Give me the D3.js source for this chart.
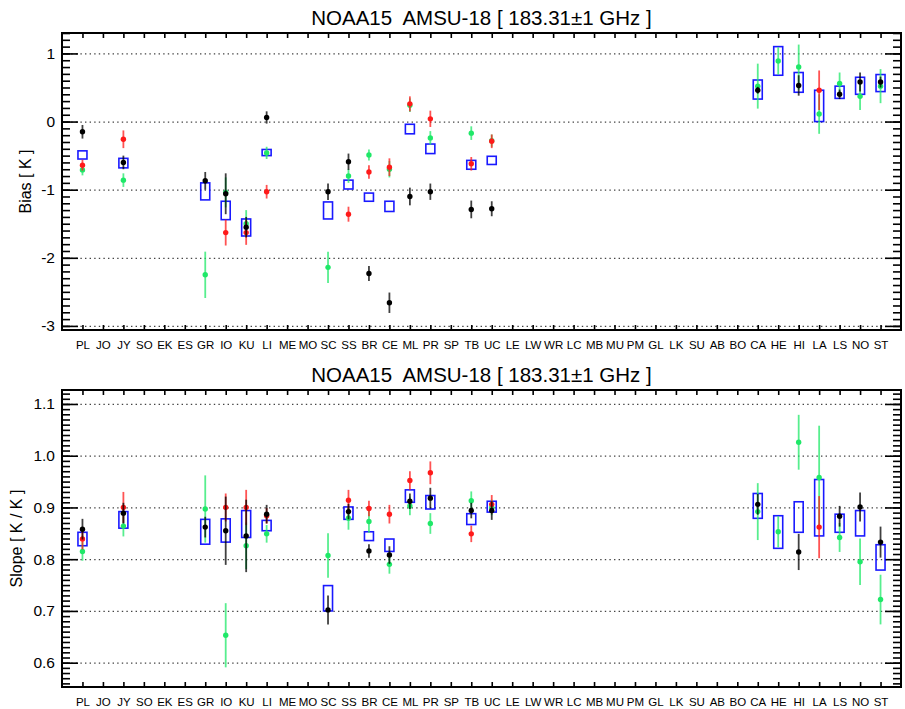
<!DOCTYPE html>
<html><head><meta charset="utf-8">
<script src="https://cdn.jsdelivr.net/npm/d3@7"></script>
<style>
body{margin:0;background:#fff;}
svg{display:block;font-family:"Liberation Sans",Arial,sans-serif;}
</style></head>
<body>
<svg id="chart" width="905" height="709"></svg>
<script>
const categories = ["PL","JO","JY","SO","EK","ES","GR","IO","KU","LI","ME","MO","SC","SS","BR","CE","ML","PR","SP","TB","UC","LE","LW","WR","LC","MB","MU","PM","GL","LK","SU","AB","BO","CA","HE","HI","LA","LS","NO","ST"];
const title = "NOAA15  AMSU-18 [ 183.31\u00b11 GHz ]";

// ---- Bias panel (value, error) keyed by category ----
const biasBlack = {PL:[-0.15,0.10],JY:[-0.60,0.10],GR:[-0.87,0.13],IO:[-1.06,0.30],KU:[-1.55,0.15],LI:[0.06,0.09],SC:[-1.03,0.12],SS:[-0.59,0.12],BR:[-2.23,0.11],CE:[-2.66,0.15],ML:[-1.10,0.13],PR:[-1.03,0.12],TB:[-1.29,0.13],UC:[-1.28,0.11],CA:[0.46,0.05],HI:[0.53,0.15],LS:[0.40,0.07],NO:[0.58,0.14],ST:[0.58,0.08]};
const biasRed = {PL:[-0.64,0.08],JY:[-0.26,0.13],IO:[-1.63,0.19],KU:[-1.63,0.18],LI:[-1.03,0.10],SS:[-1.36,0.11],BR:[-0.74,0.10],CE:[-0.67,0.13],ML:[0.26,0.11],PR:[0.04,0.12],TB:[-0.62,0.10],UC:[-0.29,0.10],LA:[0.46,0.29]};
const biasGreen = {PL:[-0.71,0.08],JY:[-0.86,0.10],GR:[-2.25,0.34],IO:[-1.04,0.22],KU:[-1.50,0.20],LI:[-0.46,0.09],SC:[-2.14,0.23],SS:[-0.80,0.10],BR:[-0.49,0.08],CE:[-0.70,0.12],ML:[0.24,0.10],PR:[-0.24,0.10],TB:[-0.17,0.10],UC:[-0.28,0.09],CA:[0.52,0.33],HE:[0.89,0.20],HI:[0.80,0.33],LA:[0.11,0.29],LS:[0.56,0.16],NO:[0.37,0.20],ST:[0.52,0.25]};
const biasBox = {PL:[-0.55,-0.43],JY:[-0.68,-0.54],GR:[-1.15,-0.90],IO:[-1.44,-1.17],KU:[-1.68,-1.43],LI:[-0.50,-0.41],SC:[-1.43,-1.18],SS:[-0.99,-0.86],BR:[-1.17,-1.05],CE:[-1.32,-1.17],ML:[-0.18,-0.04],PR:[-0.47,-0.33],TB:[-0.70,-0.57],UC:[-0.63,-0.51],CA:[0.33,0.61],HE:[0.68,1.10],HI:[0.43,0.72],LA:[0.00,0.46],LS:[0.34,0.52],NO:[0.40,0.65],ST:[0.44,0.69]};
const biasTicks = [1,0,-1,-2,-3];

// ---- Slope panel ----
const slopeBlack = {PL:[0.858,0.020],JY:[0.889,0.020],GR:[0.862,0.020],IO:[0.855,0.066],KU:[0.845,0.070],LI:[0.887,0.018],SC:[0.702,0.028],SS:[0.892,0.015],BR:[0.816,0.013],CE:[0.808,0.017],ML:[0.912,0.015],PR:[0.918,0.020],TB:[0.894,0.015],UC:[0.894,0.018],CA:[0.906,0.020],HI:[0.814,0.035],LS:[0.883,0.020],NO:[0.901,0.028],ST:[0.833,0.030]};
const slopeRed = {PL:[0.839,0.020],JY:[0.900,0.030],IO:[0.900,0.027],KU:[0.900,0.034],LI:[0.884,0.015],SS:[0.914,0.020],BR:[0.898,0.015],CE:[0.887,0.018],ML:[0.952,0.018],PR:[0.967,0.022],TB:[0.849,0.016],UC:[0.906,0.018],LA:[0.862,0.060]};
const slopeGreen = {PL:[0.815,0.018],JY:[0.864,0.020],GR:[0.897,0.065],IO:[0.653,0.062],KU:[0.826,0.045],LI:[0.849,0.017],SC:[0.807,0.043],SS:[0.879,0.022],BR:[0.873,0.022],CE:[0.790,0.018],ML:[0.903,0.018],PR:[0.869,0.020],TB:[0.913,0.018],UC:[0.900,0.015],CA:[0.892,0.055],HE:[0.853,0.030],HI:[1.026,0.053],LA:[0.958,0.100],LS:[0.842,0.028],NO:[0.795,0.045],ST:[0.722,0.048]};
const slopeBox = {PL:[0.826,0.852],JY:[0.860,0.892],GR:[0.829,0.877],IO:[0.833,0.878],KU:[0.842,0.894],LI:[0.855,0.875],SC:[0.700,0.749],SS:[0.877,0.901],BR:[0.836,0.853],CE:[0.815,0.839],ML:[0.910,0.934],PR:[0.897,0.923],TB:[0.867,0.888],UC:[0.891,0.912],CA:[0.879,0.927],HE:[0.821,0.884],HI:[0.852,0.911],LA:[0.845,0.954],LS:[0.852,0.887],NO:[0.845,0.894],ST:[0.779,0.828]};
const slopeTicks = [1.1,1.0,0.9,0.8,0.7,0.6];

const svg = d3.select("#chart");
const L = 62, R = 901;
const x = d3.scaleLinear().domain([-1, categories.length]).range([L, R]);
const colors = {green:"#1fe868", red:"#ff1a1a", black:"#000000", blue:"#0000ff"};

function panel(cfg){
  const {top, bottom, domain, majors, minorStep, fmt, ylabel, black, red, green, box, titleY} = cfg;
  const y = d3.scaleLinear().domain(domain).range([bottom, top]);
  const g = svg.append("g");

  // title
  svg.append("text").attr("x", (L+R)/2).attr("y", titleY).attr("text-anchor","middle")
    .attr("font-size", 20.5).attr("fill","#000").style("white-space","pre").text(title);

  // grid lines (dotted)
  g.append("g").attr("transform",`translate(${L},0)`)
    .call(d3.axisLeft(y).tickValues(majors).tickSize(-(R-L)).tickFormat(""))
    .call(s=>s.select(".domain").remove())
    .call(s=>s.selectAll("line").attr("stroke","#444").attr("stroke-width",1.3).attr("stroke-dasharray","1.4,3.2"));

  // minor ticks
  const [d0,d1] = domain;
  const minors = d3.range(Math.ceil(d0/minorStep - 1e-6), Math.floor(d1/minorStep + 1e-6)+1).map(k=>+(k*minorStep).toFixed(4));
  g.append("g").attr("transform",`translate(${L},0)`)
    .call(d3.axisLeft(y).tickValues(minors).tickSize(-8).tickFormat(""))
    .call(s=>s.select(".domain").remove())
    .call(s=>s.selectAll("line").attr("stroke","#000").attr("stroke-width",1.6));
  g.append("g").attr("transform",`translate(${R},0)`)
    .call(d3.axisRight(y).tickValues(minors).tickSize(-8).tickFormat(""))
    .call(s=>s.select(".domain").remove())
    .call(s=>s.selectAll("line").attr("stroke","#000").attr("stroke-width",1.6));
  // major ticks + labels
  g.append("g").attr("transform",`translate(${L},0)`)
    .call(d3.axisLeft(y).tickValues(majors).tickSize(-16).tickPadding(7).tickFormat(fmt))
    .call(s=>s.select(".domain").remove())
    .call(s=>s.selectAll("line").attr("stroke","#000").attr("stroke-width",1.6))
    .call(s=>s.selectAll("text").attr("font-size",15.5).attr("fill","#000").attr("font-family","Liberation Sans, Arial, sans-serif"));
  g.append("g").attr("transform",`translate(${R},0)`)
    .call(d3.axisRight(y).tickValues(majors).tickSize(-16).tickFormat(""))
    .call(s=>s.select(".domain").remove())
    .call(s=>s.selectAll("line").attr("stroke","#000").attr("stroke-width",1.6));

  // x ticks top & bottom
  const idx = d3.range(categories.length);
  g.append("g").attr("transform",`translate(0,${top})`)
    .call(d3.axisTop(x).tickValues(idx).tickSize(-5).tickFormat(""))
    .call(s=>s.select(".domain").remove())
    .call(s=>s.selectAll("line").attr("stroke","#000").attr("stroke-width",1.6));
  g.append("g").attr("transform",`translate(0,${bottom})`)
    .call(d3.axisBottom(x).tickValues(idx).tickSize(-5).tickPadding(11).tickFormat(i=>categories[i]))
    .call(s=>s.select(".domain").remove())
    .call(s=>s.selectAll("line").attr("stroke","#000").attr("stroke-width",1.6))
    .call(s=>s.selectAll("text").attr("font-size",11.5).attr("fill","#000").attr("font-family","Liberation Sans, Arial, sans-serif"));

  // frame
  g.append("rect").attr("x",L).attr("y",top).attr("width",R-L).attr("height",bottom-top)
    .attr("fill","none").attr("stroke","#000").attr("stroke-width",2);

  // y label
  svg.append("text").attr("transform",`translate(${cfg.labelX},${(top+bottom)/2}) rotate(-90)`)
    .attr("text-anchor","middle").attr("font-size",16).attr("fill","#000").text(ylabel);

  // boxes
  const data = g.append("g");
  data.selectAll("rect.box").data(Object.entries(box)).join("rect").attr("class","box")
    .attr("x",d=>x(categories.indexOf(d[0]))-4.5).attr("width",9)
    .attr("y",d=>y(d[1][1])).attr("height",d=>y(d[1][0])-y(d[1][1]))
    .attr("fill","none").attr("stroke",colors.blue).attr("stroke-width",1.6).attr("stroke-opacity",0.9);

  function series(obj, col){
    const e = Object.entries(obj);
    const gg = data.append("g");
    gg.selectAll("line").data(e).join("line")
      .attr("x1",d=>x(categories.indexOf(d[0]))).attr("x2",d=>x(categories.indexOf(d[0])))
      .attr("y1",d=>y(d[1][0]-d[1][1])).attr("y2",d=>y(d[1][0]+d[1][1]))
      .attr("stroke",col).attr("stroke-width",1.8).attr("stroke-opacity",0.75);
    gg.selectAll("circle").data(e).join("circle")
      .attr("cx",d=>x(categories.indexOf(d[0]))).attr("cy",d=>y(d[1][0])).attr("r",2.7)
      .attr("fill",col);
  }
  series(green, colors.green);
  series(red, colors.red);
  series(black, colors.black);
}

panel({top:33, bottom:330, domain:[-3.06,1.30], majors:biasTicks, minorStep:0.1, fmt:d=>String(d),
  ylabel:"Bias [ K ]", black:biasBlack, red:biasRed, green:biasGreen, box:biasBox, titleY:25, labelX:31});
panel({top:390, bottom:687, domain:[0.553,1.127], majors:slopeTicks, minorStep:0.01, fmt:d=>d.toFixed(1),
  ylabel:"Slope [ K / K ]", black:slopeBlack, red:slopeRed, green:slopeGreen, box:slopeBox, titleY:382, labelX:22});
</script>
</body></html>
